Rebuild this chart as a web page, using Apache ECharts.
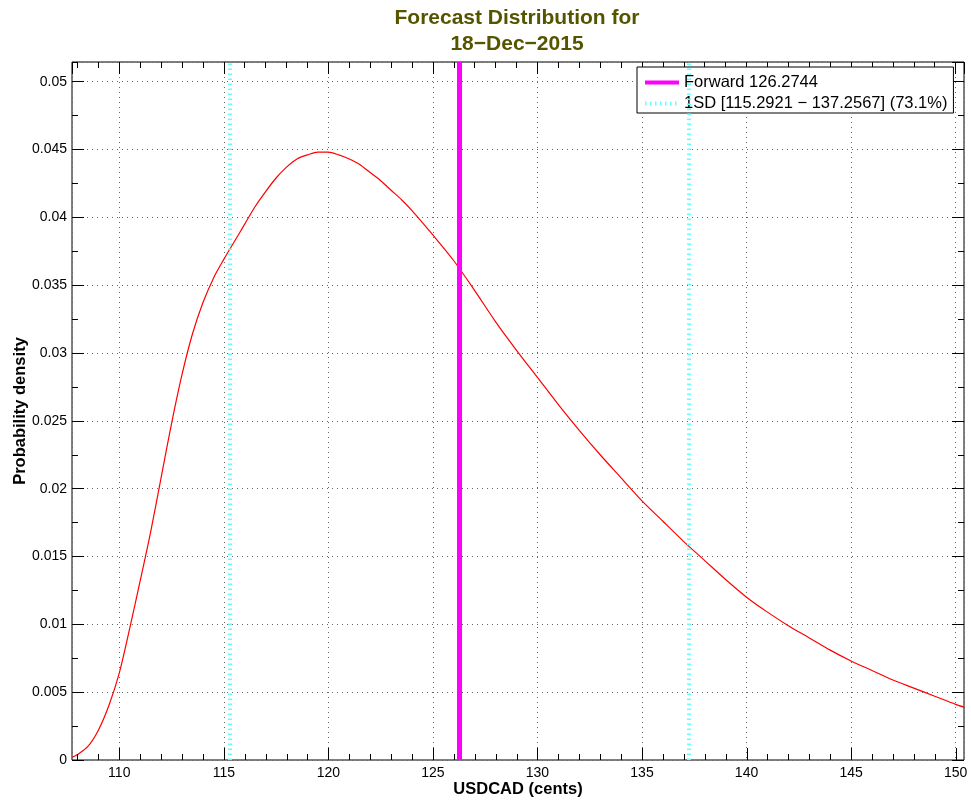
<!DOCTYPE html>
<html>
<head>
<meta charset="utf-8">
<script src="https://cdn.jsdelivr.net/npm/echarts@6/dist/echarts.min.js"></script>
<style>
html,body{margin:0;padding:0;background:#fff;}
#chart{width:971px;height:802px;}
</style>
</head>
<body>
<div id="chart"></div>
<script>
// ---- data ----
var priceX = [107.75,108,108.5,109,109.5,110,110.5,111,111.5,112,112.5,113,113.5,114,114.5,115,115.5,116,116.5,117,117.5,118,118.5,119,119.5,120,120.5,121,121.5,122,122.5,123,123.5,124,125,126,127,128,129,130,131,132,133,134,135,136,137,138,139,140,141,142,143,144,145,146,147,148,149,150,150.4];
var density = [0.0002,0.0004,0.0010,0.0022,0.0040,0.0064,0.0097,0.0132,0.0168,0.0208,0.0248,0.0284,0.0314,0.0337,0.0355,0.0369,0.0382,0.0395,0.0408,0.0419,0.0429,0.0437,0.0443,0.0446,0.0448,0.0448,0.0446,0.0443,0.0439,0.0433,0.0427,0.0420,0.0413,0.0405,0.0387,0.0368,0.0346,0.0323,0.0302,0.0282,0.0262,0.0243,0.0225,0.0208,0.0191,0.0176,0.0161,0.0147,0.0133,0.0120,0.0109,0.0099,0.0090,0.0081,0.0073,0.0066,0.0059,0.0053,0.0047,0.0041,0.0039];
var forwardValue = 126.2744;
var sdRange = [115.2921, 137.2567];
var sdPercent = 73.1;
var titleLines = ['Forecast Distribution for', '18\u2212Dec\u22122015'];
var xAxisName = 'USDCAD (cents)';
var yAxisName = 'Probability density';
var xRange = [107.74, 150.40];
var yRange = [0, 0.05145];
var xMajorStep = 5, yMajorStep = 0.005;
var xTickValues = [108,109,110,111,112,113,114,115,116,117,118,119,120,121,122,123,124,125,126,127,128,129,130,131,132,133,134,135,136,137,138,139,140,141,142,143,144,145,146,147,148,149,150];

// ---- build ----
var forwardName = 'Forward ' + forwardValue.toFixed(4);
var sdName = '1SD [' + sdRange[0].toFixed(4) + ' \u2212 ' + sdRange[1].toFixed(4) + '] (' + sdPercent.toFixed(1) + '%)';
var curve = priceX.map(function (x, i) { return [x, density[i]]; });

var FONT = '"Liberation Sans", Arial, Helvetica, sans-serif';
function isMult(v, s) { var r = v / s; return Math.abs(r - Math.round(r)) < 1e-6; }

function xAx(opts) {
  var base = {
    type: 'value', min: xRange[0], max: xRange[1],
    axisLine: { show: false, onZero: false }, axisLabel: { show: false }, splitLine: { show: false },
    axisTick: { show: false }
  };
  return Object.assign(base, opts);
}
function yAx(opts) {
  var base = {
    type: 'value', min: yRange[0], max: yRange[1],
    axisLine: { show: false, onZero: false }, axisLabel: { show: false }, splitLine: { show: false },
    axisTick: { show: false }
  };
  return Object.assign(base, opts);
}
function majorTick() { return { show: true, inside: true, length: 12, lineStyle: { color: '#000', width: 1 } }; }
function minorTickS() { return { show: true, inside: true, length: 6, lineStyle: { color: '#000', width: 1 } }; }
var gridRect = { left: 72, right: 7, top: 62, bottom: 42, containLabel: false, outerBoundsMode: 'none' };

var cyanStyle = { color: '#66ffff', width: 4, type: [1.5, 3.5] };

var option = {
  animation: false,
  backgroundColor: '#fff',
  textStyle: { fontFamily: FONT },
  title: {
    text: titleLines.join('\n'),
    left: 517, top: 5, textAlign: 'center', padding: 0,
    textStyle: { fontFamily: FONT, fontSize: 21, fontWeight: 'bold', color: '#555500', lineHeight: 26 }
  },
  grid: [
    Object.assign({ show: true, borderColor: '#000', borderWidth: 1 }, gridRect),
    Object.assign({ show: false }, gridRect)
  ],
  legend: {
    orient: 'vertical', left: 637, top: 67,
    padding: [7, 6, 1, 6], itemGap: 4, itemWidth: 34, itemHeight: 14,
    backgroundColor: '#fff', borderColor: '#000', borderWidth: 1,
    textStyle: { fontFamily: FONT, fontSize: 16.5, color: '#000', lineHeight: 17 },
    data: [
      { name: forwardName, itemStyle: { opacity: 0, color: 'rgba(0,0,0,0)', borderWidth: 0 },
        lineStyle: { color: '#ff00ff', width: 4, type: 'solid' } },
      { name: sdName, itemStyle: { opacity: 0, color: 'rgba(0,0,0,0)', borderWidth: 0 },
        lineStyle: cyanStyle }
    ],
    selectedMode: false
  },
  xAxis: [
    xAx({ gridIndex: 0, position: 'bottom', splitNumber: 8,
      axisLabel: { show: true, margin: 6, fontSize: 14, color: '#000', fontFamily: FONT,
        showMinLabel: false, showMaxLabel: false,
        formatter: function (v) { return isMult(v, xMajorStep) ? String(Math.round(v)) : ''; } },
      splitLine: { show: true, lineStyle: { color: '#666', type: [1, 4], width: 1 } },
      name: xAxisName, nameLocation: 'middle', nameGap: 21, nameMoveOverlap: false,
      nameTextStyle: { fontFamily: FONT, fontSize: 16.5, fontWeight: 'bold', color: '#000' }
    }),
    xAx({ gridIndex: 0, position: 'top', splitNumber: 8, axisTick: majorTick() }),
    xAx({ gridIndex: 1, position: 'bottom', splitNumber: 43 }),
    xAx({ gridIndex: 1, position: 'top', splitNumber: 43, axisTick: minorTickS() })
  ],
  yAxis: [
    yAx({ gridIndex: 0, position: 'left', interval: yMajorStep,
      axisTick: majorTick(),
      axisLabel: { show: true, margin: 5, fontSize: 14, color: '#000', fontFamily: FONT,
        showMaxLabel: false,
        formatter: function (v) { return isMult(v, yMajorStep) ? String(+v.toFixed(4)) : ''; } },
      splitLine: { show: true, lineStyle: { color: '#666', type: [1, 4], width: 1 } },
      name: yAxisName, nameLocation: 'middle', nameGap: 43, nameMoveOverlap: false,
      nameTextStyle: { fontFamily: FONT, fontSize: 16.5, fontWeight: 'bold', color: '#000' }
    }),
    yAx({ gridIndex: 0, position: 'right', interval: yMajorStep, axisTick: majorTick() }),
    yAx({ gridIndex: 1, position: 'left', interval: yMajorStep / 2, axisTick: minorTickS() }),
    yAx({ gridIndex: 1, position: 'right', interval: yMajorStep / 2, axisTick: minorTickS() })
  ],
  series: [
    {
      name: sdName, type: 'line', xAxisIndex: 0, yAxisIndex: 0, data: [],
      symbol: 'none', color: cyanStyle.color,
      lineStyle: cyanStyle,
      markLine: {
        silent: true, symbol: 'none', animation: false,
        label: { show: false },
        lineStyle: cyanStyle,
        data: sdRange.map(function (v) { return { xAxis: v }; })
      }
    },
    {
      name: 'density', type: 'line', xAxisIndex: 0, yAxisIndex: 0,
      data: curve, symbol: 'none', smooth: 0.3,
      lineStyle: { color: '#ff0000', width: 1.2 }, z: 3
    },
    {
      name: forwardName, type: 'line', xAxisIndex: 0, yAxisIndex: 0, data: [],
      symbol: 'none', color: '#ff00ff',
      lineStyle: { color: '#ff00ff', width: 5 },
      markLine: {
        silent: true, symbol: 'none', animation: false,
        label: { show: false },
        lineStyle: { color: '#ff00ff', width: 5, type: 'solid' },
        data: [{ xAxis: forwardValue }]
      }, z: 4
    }
  ]
};

var chart = echarts.init(document.getElementById('chart'), null, { renderer: 'canvas' });
chart.setOption(option);

// bottom inside tick marks, positioned through the x axis scale
var tickEls = xTickValues.map(function (v) {
  var p = chart.convertToPixel({ xAxisIndex: 0, yAxisIndex: 0 }, [v, yRange[0]]);
  var x = Math.round(p[0]) + 0.5;
  var len = isMult(v, xMajorStep) ? 12 : 6;
  return { type: 'line', silent: true, z: 100, zlevel: 0,
    shape: { x1: x, y1: p[1], x2: x, y2: p[1] - len },
    style: { stroke: '#000', lineWidth: 1 } };
});
chart.setOption({ graphic: { elements: tickEls } });
</script>
</body>
</html>
